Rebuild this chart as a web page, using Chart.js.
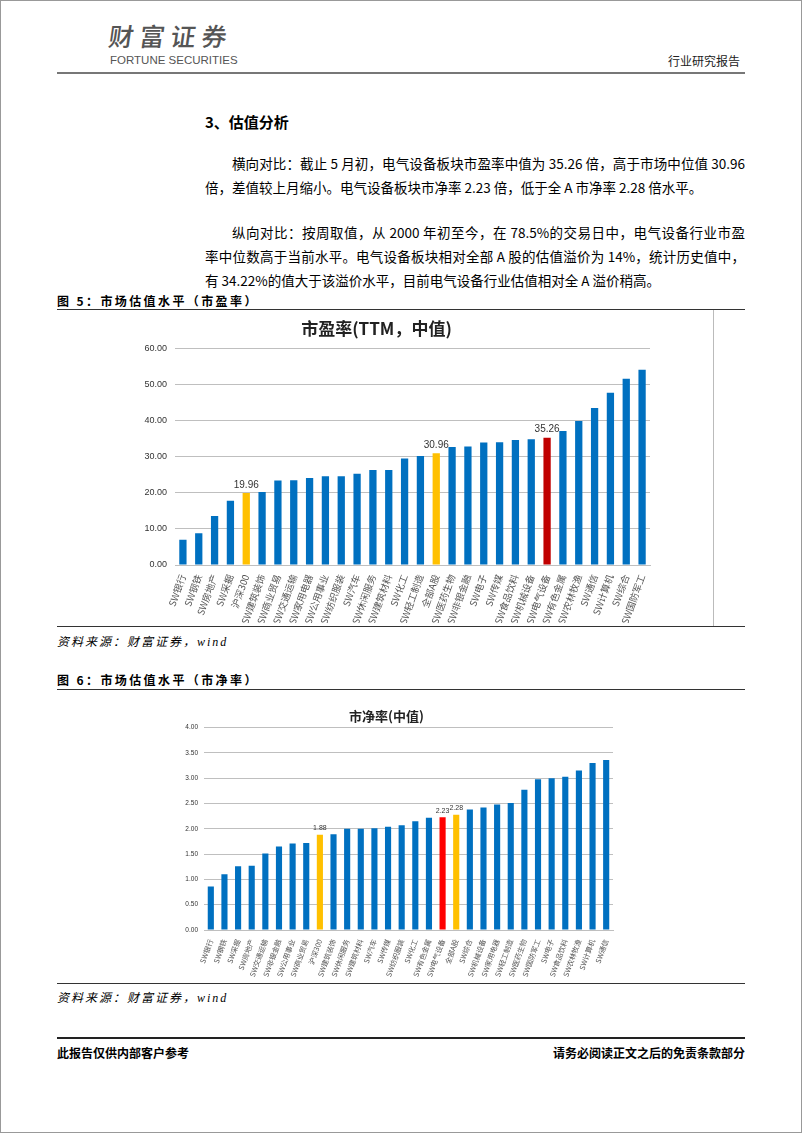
<!DOCTYPE html>
<html><head><meta charset="utf-8">
<script src="https://cdn.jsdelivr.net/npm/chart.js@4/dist/chart.umd.min.js"></script>
<style>
html,body{margin:0;padding:0;}
body{width:802px;height:1133px;position:relative;background:#fff;font-family:"Noto Sans CJK SC","Noto Sans",sans-serif;color:#000;overflow:hidden;}
.frame{position:absolute;left:0;top:0;width:800px;height:1131px;border:1px solid #999;}
.abs{position:absolute;white-space:nowrap;}
.line{position:absolute;left:57px;width:688px;}
.p{position:absolute;left:205px;width:540px;font-size:13.5px;line-height:24px;height:24px;text-align:justify;text-align-last:justify;}
.p.last{text-align-last:left;}
.cap{position:absolute;left:57px;font-size:12px;font-weight:bold;letter-spacing:2.4px;}
.src{position:absolute;left:57px;font-size:12px;font-style:italic;letter-spacing:2px;font-family:"Liberation Serif","Noto Sans CJK SC",serif;}
</style></head>
<body>
<div class="frame"></div>
<div class="abs" style="left:109px;top:23px;font-size:25px;line-height:1;color:#555;letter-spacing:6px;font-family:'Noto Sans CJK SC';font-weight:500;transform:skewX(-8deg);">财富证券</div>
<div class="abs" style="left:110px;top:55px;font-size:11.5px;line-height:1;color:#555;font-family:'Liberation Sans Narrow','Liberation Sans',sans-serif;">FORTUNE SECURITIES</div>
<div class="abs" style="left:668px;top:52px;font-size:12px;color:#222;">行业研究报告</div>
<div class="line" style="top:72px;height:2px;background:#777;"></div>

<div class="abs" style="left:205px;top:111px;font-size:15px;font-weight:bold;">3、估值分析</div>
<div class="p" style="top:151px;left:232px;width:513px;">横向对比：截止 5 月初，电气设备板块市盈率中值为 35.26 倍，高于市场中位值 30.96</div>
<div class="p last" style="top:175px;">倍，差值较上月缩小。电气设备板块市净率 2.23 倍，低于全 A 市净率 2.28 倍水平。</div>
<div class="p" style="top:220px;left:232px;width:513px;">纵向对比：按周取值，从 2000 年初至今，在 78.5%的交易日中，电气设备行业市盈</div>
<div class="p" style="top:244px;">率中位数高于当前水平。电气设备板块相对全部 A 股的估值溢价为 14%，统计历史值中，</div>
<div class="p last" style="top:268px;">有 34.22%的值大于该溢价水平，目前电气设备行业估值相对全 A 溢价稍高。</div>

<div class="cap" style="top:292px;">图 5：市场估值水平（市盈率）</div>
<div class="line" style="top:309px;height:1px;background:#333;"></div>
<div class="abs" style="left:103px;top:310px;width:610px;height:316px;border-right:1px solid #bbb;"></div>
<div class="abs" style="left:103px;top:312px;width:610px;height:314px;"><canvas id="c1"></canvas></div>
<div class="line" style="top:626px;height:1px;background:#333;"></div>
<div class="src" style="top:632px;">资料来源：财富证券，wind</div>

<div class="cap" style="top:671px;">图 6：市场估值水平（市净率）</div>
<div class="line" style="top:689px;height:1px;background:#333;"></div>
<div class="abs" style="left:160px;top:700px;width:490px;height:280px;"><canvas id="c2"></canvas></div>
<div class="line" style="top:983px;height:1px;background:#333;"></div>
<div class="src" style="top:988px;">资料来源：财富证券，wind</div>

<div class="line" style="top:1037px;height:2px;background:#222;"></div>
<div class="abs" style="left:57px;top:1044px;font-size:12px;font-weight:bold;">此报告仅供内部客户参考</div>
<div class="abs" style="right:57px;top:1044px;font-size:12px;font-weight:bold;">请务必阅读正文之后的免责条款部分</div>

<script>
const peCategories = ["SW银行","SW钢铁","SW房地产","SW采掘","沪深300","SW建筑装饰","SW商业贸易","SW交通运输","SW家用电器","SW公用事业","SW纺织服装","SW汽车","SW休闲服务","SW建筑材料","SW化工","SW轻工制造","全部A股","SW医药生物","SW非银金融","SW电子","SW传媒","SW食品饮料","SW机械设备","SW电气设备","SW有色金属","SW农林牧渔","SW通信","SW计算机","SW综合","SW国防军工"];
const peValues = [7.0,8.8,13.6,17.8,19.96,20.2,23.4,23.5,24.1,24.6,24.6,25.3,26.3,26.3,29.5,30.2,30.96,32.7,32.8,33.9,34.0,34.6,34.8,35.26,37.1,39.9,43.5,47.7,51.6,54.1];
const peTicks = ["0.00","10.00","20.00","30.00","40.00","50.00","60.00"];

const pbCategories = ["SW银行","SW钢铁","SW采掘","SW房地产","SW交通运输","SW非银金融","SW公用事业","SW商业贸易","沪深300","SW建筑装饰","SW休闲服务","SW建筑材料","SW汽车","SW传媒","SW纺织服装","SW化工","SW有色金属","SW电气设备","全部A股","SW综合","SW机械设备","SW家用电器","SW轻工制造","SW医药生物","SW国防军工","SW电子","SW食品饮料","SW农林牧渔","SW计算机","SW通信"];
const pbValues = [0.86,1.10,1.26,1.27,1.51,1.65,1.71,1.72,1.88,1.89,2.00,2.00,2.01,2.04,2.07,2.15,2.22,2.23,2.28,2.38,2.42,2.48,2.51,2.77,2.98,3.00,3.03,3.15,3.30,3.36];
const pbTicks = ["0.00","0.50","1.00","1.50","2.00","2.50","3.00","3.50","4.00"];

const BLUE = "#0070C0", YELLOW = "#FFC000";
const peYellow = ["沪深300","全部A股"], peRed = ["SW电气设备"];
const pbYellow = ["沪深300","全部A股"], pbRed = ["SW电气设备"];

function colorsFor(cats, yel, red, redColor){
  return cats.map(c => red.includes(c) ? redColor : (yel.includes(c) ? YELLOW : BLUE));
}

const labelPlugin = {
  id:'hlLabels',
  afterDatasetsDraw(chart, args, opts){
    const ctx = chart.ctx;
    const meta = chart.getDatasetMeta(0);
    const ds = chart.data.datasets[0];
    ctx.save();
    ctx.font = opts.font;
    ctx.fillStyle = '#333';
    ctx.textAlign = 'center';
    ctx.textBaseline = 'bottom';
    chart.data.labels.forEach((lab,i)=>{
      if(opts.names.includes(lab)){
        const el = meta.data[i];
        ctx.fillText(ds.data[i].toFixed(2), el.x, el.y - opts.gap);
      }
    });
    ctx.restore();
  }
};

function makeChart(id, cats, vals, ticks, yMax, step, cfg){
  return new Chart(document.getElementById(id), {
    type:'bar',
    data:{labels:cats, datasets:[{data:vals, backgroundColor:cfg.colors, barPercentage:cfg.barPct, categoryPercentage:1}]},
    plugins:[labelPlugin],
    options:{
      responsive:true, maintainAspectRatio:false, animation:false,
      layout:{padding:{left:0,right:cfg.padRight,top:0,bottom:cfg.padBottom}},
      plugins:{
        legend:{display:false}, tooltip:{enabled:false},
        title:{display:true, text:cfg.title, color:'#222', font:{size:cfg.titleSize, weight:'bold', family:'"Noto Sans CJK SC", sans-serif'}, padding:{top:cfg.titleTop,bottom:cfg.titleBottom}},
        hlLabels:{names:cfg.labelNames, font:cfg.labelFont, gap:3}
      },
      scales:{
        x:{
          grid:{display:false, drawTicks:true},
          border:{color:'#bfbfbf'},
          ticks:{color:'#555', autoSkip:false, minRotation:70, maxRotation:70, font:{size:cfg.xFont, family:'"Noto Sans CJK SC", sans-serif'}, padding:0},
          afterFit(s){ s.height = cfg.xHeight; }
        },
        y:{
          min:0, max:yMax,
          grid:{color:'#bfbfbf', drawTicks:false},
          border:{display:false},
          ticks:{stepSize:step, color:'#333', padding:cfg.yPad, font:{size:cfg.yFont, family:'"Liberation Sans", sans-serif'}, callback:(v,i)=>ticks[i]},
          afterFit(s){ s.width = cfg.yWidth; }
        }
      }
    }
  });
}

makeChart('c1', peCategories, peValues, peTicks, 60, 10, {
  colors: colorsFor(peCategories, peYellow, peRed, "#C00000"),
  barPct:0.46, padRight:63, padBottom:3, title:'市盈率(TTM，中值)', titleSize:17, titleTop:6, titleBottom:10,
  labelNames:["沪深300","全部A股","SW电气设备"], labelFont:'10px "Liberation Sans", sans-serif',
  xFont:9.5, xHeight:58, yFont:9, yPad:8, yWidth:72
});
makeChart('c2', pbCategories, pbValues, pbTicks, 4, 0.5, {
  colors: colorsFor(pbCategories, pbYellow, pbRed, "#FF0000"),
  barPct:0.45, padRight:37, padBottom:2, title:'市净率(中值)', titleSize:13, titleTop:8, titleBottom:4,
  labelNames:["沪深300","全部A股","SW电气设备"], labelFont:'7px "Liberation Sans", sans-serif',
  xFont:7.2, xHeight:48, yFont:6.5, yPad:6, yWidth:44
});
</script>
</body></html>
